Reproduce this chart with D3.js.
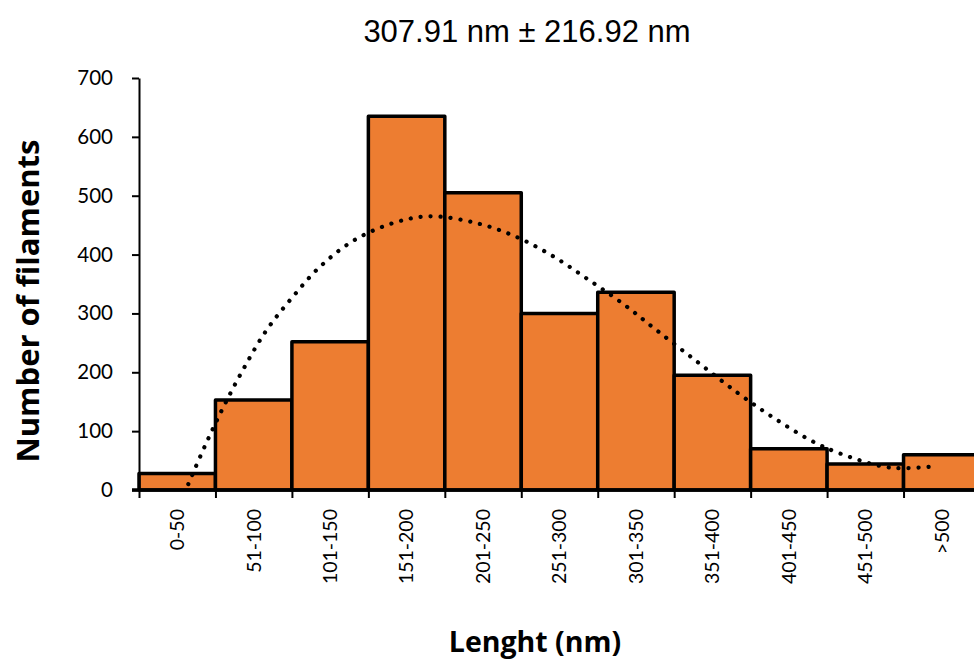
<!DOCTYPE html>
<html>
<head>
<meta charset="utf-8">
<script src="https://cdn.jsdelivr.net/npm/d3@7"></script>
<style>
  body { margin: 0; background: #fff; }
  svg { display: block; }
</style>
</head>
<body>
<div id="chart"></div>
<script>
// length classes (nm) and counts
const categories = ["0-50", "51-100", "101-150", "151-200", "201-250", "251-300",
                    "301-350", "351-400", "401-450", "451-500", ">500"];
const counts = [28, 153, 252, 635, 505, 300, 336, 195, 70, 44, 60];
const yTicks = [0, 100, 200, 300, 400, 500, 600, 700];

// dotted trend (position in category units, value)
const trendPos = [0.645, 0.863, 1.10, 1.355, 1.655, 1.997, 2.365, 2.81, 3.335, 3.80,
                  4.40, 4.92, 5.405, 5.86, 6.335, 6.765, 7.31, 7.83, 8.285, 8.79,
                  9.17, 9.69, 9.955, 10.38];
const trendVal = [10, 75, 140, 203, 269, 326, 379, 424, 454, 465,
                  454, 431, 398, 359, 316, 272, 217, 165, 124, 84,
                  62, 41, 37, 40];

const titleText = "307.91 nm \u00b1 216.92 nm";
const xTitle = "Lenght (nm)";
const yTitle = "Number of filaments";

const W = 974, H = 665;
const margin = {top: 78, left: 139, bottom: 175};
const plotRight = 980;   // last bar runs past the edge of the picture
const tickFont = "Lato, 'Open Sans', sans-serif";
const titleFont = "'Open Sans', Lato, sans-serif";

const svg = d3.select("#chart").append("svg")
    .attr("width", W)
    .attr("height", H);

const x = d3.scaleBand()
    .domain(categories)
    .range([margin.left, plotRight])
    .padding(0);

const xPos = d3.scaleLinear()
    .domain([0, categories.length])
    .range([margin.left, plotRight]);

const y = d3.scaleLinear()
    .domain([0, 700])
    .range([H - margin.bottom, margin.top]);

// bars
svg.append("g").selectAll("rect")
    .data(categories.map((c, i) => ({cat: c, n: counts[i]})))
    .enter().append("rect")
    .attr("x", d => x(d.cat))
    .attr("y", d => y(d.n))
    .attr("width", x.bandwidth())
    .attr("height", d => y(0) - y(d.n))
    .attr("fill", "#ED7D31")
    .attr("stroke", "#000")
    .attr("stroke-width", 3.5)
    .attr("stroke-linejoin", "round");

// trend line
const line = d3.line()
    .x((d, i) => xPos(trendPos[i]))
    .y(d => y(d))
    .curve(d3.curveCatmullRom);

svg.append("path")
    .datum(trendVal)
    .attr("d", line)
    .attr("fill", "none")
    .attr("stroke", "#000")
    .attr("stroke-width", 4.2)
    .attr("stroke-linecap", "round")
    .attr("stroke-dasharray", "0.1 9.9");

// y axis
const yAxis = svg.append("g")
    .attr("transform", `translate(${margin.left},0)`)
    .call(d3.axisLeft(y).tickValues(yTicks).tickSize(7).tickSizeOuter(0).tickPadding(19));
yAxis.select(".domain").attr("stroke", "#000").attr("stroke-width", 2);
yAxis.selectAll(".tick line").attr("stroke", "#000").attr("stroke-width", 2);
yAxis.selectAll("text")
    .style("font-family", tickFont)
    .style("font-size", "20.5px")
    .attr("fill", "#000");

// x axis: ticks at bar edges
const xTickAxis = svg.append("g")
    .attr("transform", `translate(0,${y(0)})`)
    .call(d3.axisBottom(xPos).tickValues(d3.range(0, categories.length + 1))
        .tickFormat("").tickSize(8).tickSizeOuter(0));
xTickAxis.select(".domain").remove();
xTickAxis.selectAll(".tick line").attr("stroke", "#000").attr("stroke-width", 2);

// x axis: category labels at centres
const xAxis = svg.append("g")
    .attr("transform", `translate(0,${y(0)})`)
    .call(d3.axisBottom(x).tickSize(0).tickSizeOuter(0));
xAxis.select(".domain").remove();
xAxis.selectAll("text")
    .attr("transform", "rotate(-90)")
    .attr("x", -19)
    .attr("y", 0)
    .attr("dy", "0.35em")
    .style("text-anchor", "end")
    .style("font-family", tickFont)
    .style("font-size", "19.5px")
    .attr("fill", "#000");

// baseline
svg.append("line")
    .attr("x1", margin.left - 7)
    .attr("x2", W)
    .attr("y1", y(0))
    .attr("y2", y(0))
    .attr("stroke", "#000")
    .attr("stroke-width", 3.5);

// titles
svg.append("text")
    .attr("x", 527)
    .attr("y", 42)
    .attr("text-anchor", "middle")
    .style("font-family", "'Liberation Sans', Arial, sans-serif")
    .style("font-size", "31px")
    .text(titleText);

svg.append("text")
    .attr("x", 535)
    .attr("y", 652)
    .attr("text-anchor", "middle")
    .style("font-family", titleFont)
    .style("font-weight", "bold")
    .style("font-size", "28.5px")
    .text(xTitle);

svg.append("text")
    .attr("transform", "translate(39,301) rotate(-90)")
    .attr("text-anchor", "middle")
    .style("font-family", titleFont)
    .style("font-weight", "bold")
    .style("font-size", "31px")
    .text(yTitle);
</script>
</body>
</html>
